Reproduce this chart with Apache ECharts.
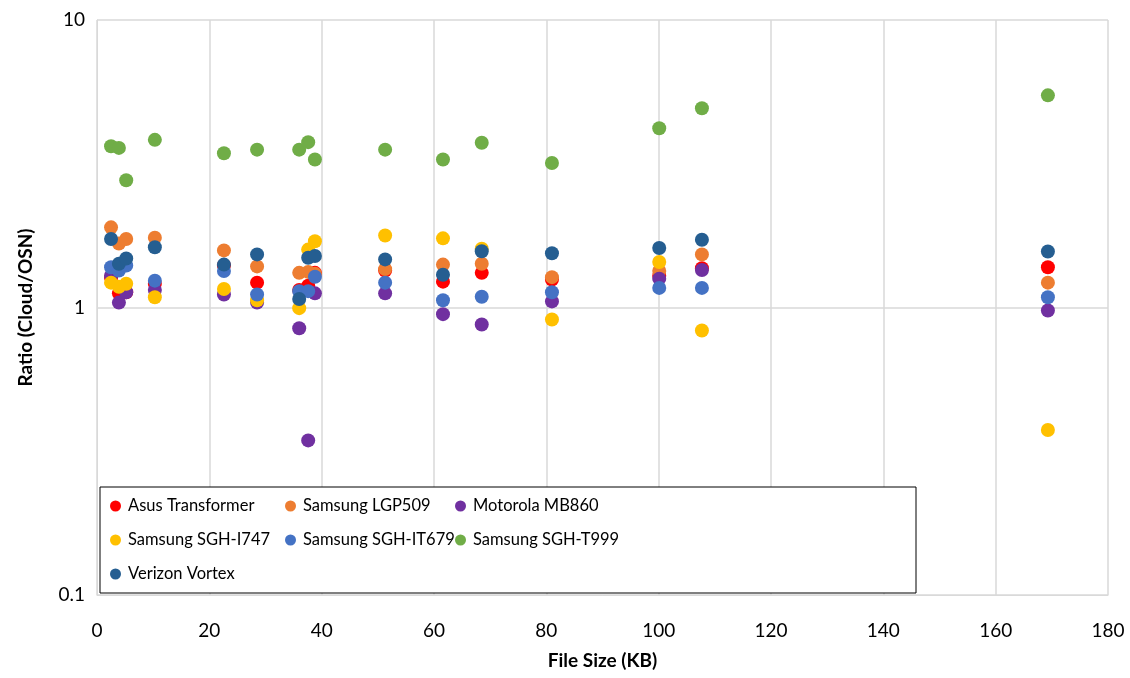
<!DOCTYPE html>
<html>
<head>
<meta charset="utf-8">
<script src="https://cdn.jsdelivr.net/npm/echarts@6/dist/echarts.min.js"></script>
<style>
  html, body { margin: 0; padding: 0; background: #fff; }
  #chart { width: 1130px; height: 678px; }
</style>
</head>
<body>
<div id="chart"></div>
<script>
// file sizes (KB) shared by every device
const fileSizes = [2.5, 3.9, 5.2, 10.3, 22.6, 28.5, 36.0, 37.6, 38.8, 51.3, 61.6, 68.5, 81.0, 100.1, 107.7, 169.3]

const asusTransformer = [1.27, 1.12, 1.13, 1.21, 1.40, 1.22, 1.15, 1.19, 1.32, 1.345, 1.23, 1.32, 1.25, 1.29, 1.37, 1.38]
const samsungLGP509 = [1.90, 1.67, 1.73, 1.75, 1.58, 1.39, 1.32, 1.33, 1.31, 1.36, 1.41, 1.42, 1.275, 1.34, 1.53, 1.22]
const motorolaMB860 = [1.29, 1.04, 1.13, 1.15, 1.11, 1.04, 0.847, 0.345, 1.12, 1.12, 0.948, 0.873, 1.05, 1.26, 1.35, 0.976]
const samsungI747 = [1.22, 1.18, 1.21, 1.086, 1.16, 1.06, 0.995, 1.59, 1.70, 1.78, 1.74, 1.60, 0.908, 1.44, 0.832, 0.375]
const samsungIT679 = [1.38, 1.345, 1.40, 1.24, 1.34, 1.11, 1.14, 1.14, 1.28, 1.22, 1.06, 1.09, 1.13, 1.17, 1.17, 1.086]
const samsungT999 = [3.64, 3.59, 2.77, 3.83, 3.44, 3.54, 3.54, 3.76, 3.27, 3.54, 3.27, 3.74, 3.18, 4.20, 4.93, 5.47]
const verizonVortex = [1.73, 1.42, 1.48, 1.62, 1.41, 1.53, 1.07, 1.49, 1.51, 1.47, 1.30, 1.57, 1.545, 1.61, 1.72, 1.566]

const seriesNames = ['Asus Transformer', 'Samsung LGP509', 'Motorola MB860', 'Samsung SGH-I747', 'Samsung SGH-IT679', 'Samsung SGH-T999', 'Verizon Vortex']
const seriesValues = [asusTransformer, samsungLGP509, motorolaMB860, samsungI747, samsungIT679, samsungT999, verizonVortex]
const colors = ['#FF0000', '#ED7D31', '#7030A0', '#FFC000', '#4472C4', '#70AD47', '#255E91']

const xTicks = { min: 0, max: 180, interval: 20 }
const yTicks = { min: 0.1, max: 10 }

const font = 'Lato, "Open Sans", sans-serif'

const myChart = echarts.init(document.getElementById('chart'))

// legend: 3 columns inside a framed box
const legendBase = {
  orient: 'vertical',
  top: 495,
  padding: 0,
  icon: 'circle',
  itemWidth: 11,
  itemHeight: 11,
  itemGap: 12,
  textStyle: { fontFamily: font, fontSize: 16.5, lineHeight: 22, color: '#000', padding: [0, 0, 0, 2] }
}

const option = {
  animation: false,
  color: colors,
  grid: { left: 97, right: 22, top: 20, bottom: 83 },
  xAxis: {
    type: 'value',
    min: xTicks.min,
    max: xTicks.max,
    interval: xTicks.interval,
    name: 'File Size (KB)',
    nameLocation: 'middle',
    nameGap: 56,
    nameTextStyle: { fontFamily: font, fontSize: 19, fontWeight: 'bold', color: '#000' },
    axisLine: { show: true, lineStyle: { color: '#d9d9d9', width: 1 } },
    axisTick: { show: false },
    axisLabel: { fontFamily: font, fontSize: 19, color: '#000', margin: 26 },
    splitLine: { show: true, lineStyle: { color: '#d9d9d9', width: 1.5 } }
  },
  yAxis: {
    type: 'log',
    logBase: 10,
    min: yTicks.min,
    max: yTicks.max,
    name: 'Ratio (Cloud/OSN)',
    nameLocation: 'middle',
    nameGap: 62,
    nameTextStyle: { fontFamily: font, fontSize: 19, fontWeight: 'bold', color: '#000' },
    axisLine: { show: true, lineStyle: { color: '#d9d9d9', width: 1 } },
    axisTick: { show: false },
    axisLabel: { fontFamily: font, fontSize: 19, color: '#000', margin: 12 },
    minorTick: { show: false },
    splitLine: { show: true, lineStyle: { color: '#d9d9d9', width: 1.5 } }
  },
  graphic: [{
    type: 'rect',
    shape: { x: 100, y: 487, width: 816, height: 106 },
    style: { fill: '#fff', stroke: '#000', lineWidth: 1 },
    z: 3
  }],
  legend: [
    Object.assign({}, legendBase, { left: 110, data: [seriesNames[0], seriesNames[3], seriesNames[6]] }),
    Object.assign({}, legendBase, { left: 285, data: [seriesNames[1], seriesNames[4]] }),
    Object.assign({}, legendBase, { left: 455, data: [seriesNames[2], seriesNames[5]] })
  ],
  series: seriesNames.map((name, i) => ({
    name: name,
    type: 'scatter',
    symbol: 'circle',
    symbolSize: 14,
    z: 2,
    itemStyle: { color: colors[i], opacity: 1 },
    data: fileSizes.map((x, j) => [x, seriesValues[i][j]])
  }))
}

myChart.setOption(option)
</script>
</body>
</html>
